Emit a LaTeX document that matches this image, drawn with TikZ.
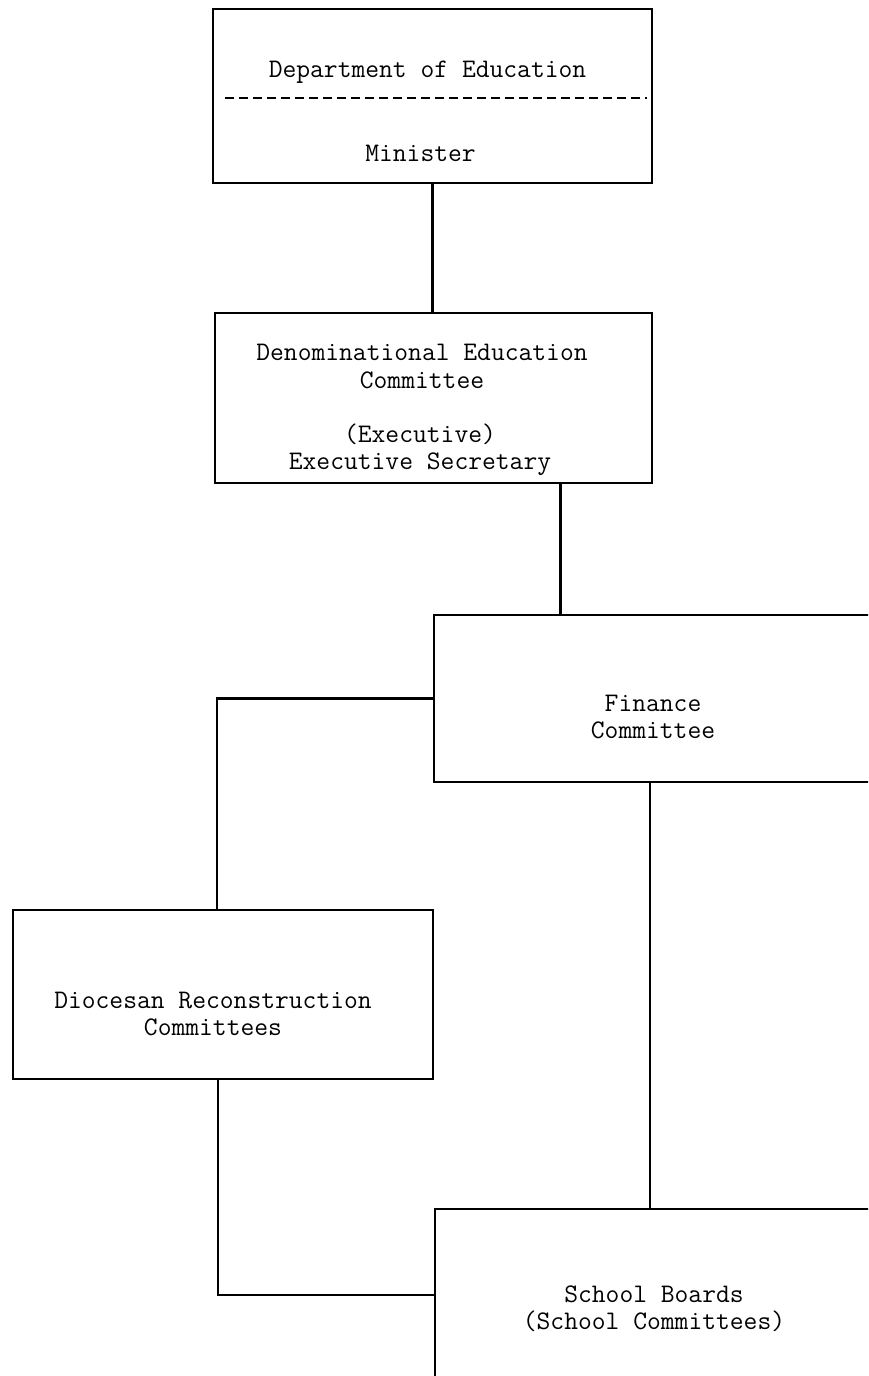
\documentclass[tikz,border=0pt]{standalone}
\usetikzlibrary{positioning}

\begin{document}
\begin{tikzpicture}[x=0.5pt, y=-0.5pt,
    font=\fontsize{13.4}{13.7}\selectfont\ttfamily,
    box/.style={draw, line width=1.1pt, inner sep=0pt},
    txt/.style={align=center, inner sep=0pt},
    link/.style={line width=1.1pt},
    divider/.style={line width=1.1pt, dash pattern=on 4.5pt off 2.5pt}]
    \useasboundingbox (0,0) rectangle (868,1376);
    \clip (0,0) rectangle (868,1376);
    % boxes
    \node[box, minimum width=219.5pt, minimum height=87pt]   (min) at (432.5,96)  {};
    \node[box, minimum width=218.5pt, minimum height=85pt]   (den) at (433.5,398) {};
    \node[box, minimum width=219pt,   minimum height=83.5pt] (fin) at (653,698.5) {};
    \node[box, minimum width=210pt,   minimum height=84.5pt] (dio) at (223,994.5) {};
    \node[box, minimum width=218pt,   minimum height=86pt]   (sch) at (653,1295)  {};
    % texts
    \node[txt] (dept) at (427.5,72) {Department of Education};
    \draw[divider] (225,98) -- (647,98);
    \node[txt] (mins) at (420.5,153) {Minister};
    \node[txt] (denc) at (422,366.5) {Denominational Education\\Committee};
    \node[txt] (exec) at (420,450)   {(Executive)\\Executive Secretary};
    \node[txt] (finc) at (653,717)   {Finance\\Committee};
    \node[txt] (dioc) at (213,1014)  {Diocesan Reconstruction\\Committees};
    \node[txt] (schc) at (654,1309)  {School Boards\\(School Committees)};
    % connectors
    \draw[link] (min.south) -- (min.south |- den.north);
    \draw[link] ([xshift=63.5pt]den.south) -- ([xshift=63.5pt]den.south |- fin.north);
    \draw[link] (fin.west) -| ([xshift=-3pt]dio.north);
    \draw[link] ([xshift=-1.5pt]fin.south) -- ([xshift=-1.5pt]fin.south |- sch.north);
    \draw[link] ([xshift=-2.5pt]dio.south) |- (sch.west);
\end{tikzpicture}
\end{document}
